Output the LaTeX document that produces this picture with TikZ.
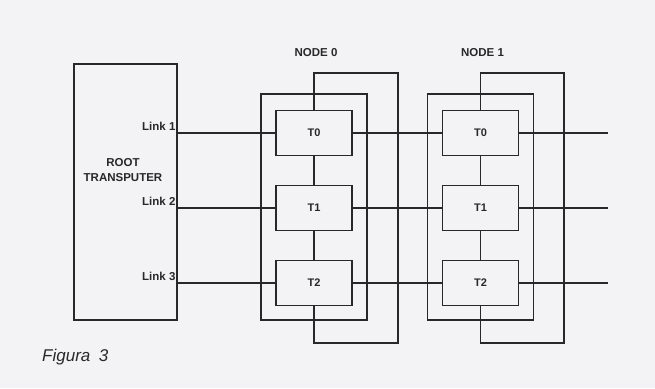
\documentclass[tikz,border=0pt]{standalone}
\usepackage{fontspec}
\setmainfont{Liberation Sans}
\usetikzlibrary{positioning, calc}
\definecolor{paper}{RGB}{243,243,246}
\definecolor{ink}{RGB}{40,40,40}

\begin{document}
\begin{tikzpicture}[x=1pt, y=-1pt,
  wire/.style={draw=ink, line width=1.3pt},
  tpbox/.style={wire, minimum width=76pt, minimum height=45pt, inner sep=0pt,
    text=ink, font=\fontsize{11}{13}\selectfont\bfseries},
  frame/.style={wire, minimum width=106pt, minimum height=226pt, inner sep=0pt},
  lbl/.style={text=ink, inner sep=0pt, font=\fontsize{11.5}{15}\selectfont\bfseries}]
  \fill[paper] (0,0) rectangle (655,388);
  \useasboundingbox (0,0) rectangle (655,388);

  % Root transputer
  \node[wire, minimum width=103pt, minimum height=256pt, inner sep=0pt] (root) at (125.5,192) {};
  \node[lbl, align=center] (rootname) at (123,170) {ROOT\\TRANSPUTER};

  % Node 0
  \node[lbl] (name0) at (316,53) {NODE 0};
  \node[frame] (frame0) at (314,207) {};
  \node[tpbox] (a0) at (314,133) {T0};
  \node[tpbox] (a1) at (314,208) {T1};
  \node[tpbox] (a2) at (314,283) {T2};
  \coordinate (top0) at (398,73);
  \coordinate (bot0) at (398,343);

  % Node 1
  \node[lbl] (name1) at (482.5,53) {NODE 1};
  \node[frame] (frame1) at (480.5,207) {};
  \node[tpbox] (b0) at (480.5,133) {T0};
  \node[tpbox] (b1) at (480.5,208) {T1};
  \node[tpbox] (b2) at (480.5,283) {T2};
  \coordinate (top1) at (564,73);
  \coordinate (bot1) at (564,343);

  % Links from the root
  \coordinate (l1) at (root.east |- a0);
  \coordinate (l2) at (root.east |- a1);
  \coordinate (l3) at (root.east |- a2);
  \node[lbl, anchor=south east] (lk1) at ($(l1)+(-2,-2)$) {Link 1};
  \node[lbl, anchor=south east] (lk2) at ($(l2)+(-2,-2)$) {Link 2};
  \node[lbl, anchor=south east] (lk3) at ($(l3)+(-2,-2)$) {Link 3};
  \draw[wire] (l1) -- (a0);
  \draw[wire] (l2) -- (a1);
  \draw[wire] (l3) -- (a2);

  % Pipelines and loops
  \draw[wire] (a0) -- (a1);
  \draw[wire] (a1) -- (a2);
  \draw[wire] (a0.north) |- (top0) -- (bot0) -| (a2.south);
  \draw[wire] (b0) -- (b1);
  \draw[wire] (b1) -- (b2);
  \draw[wire] (b0.north) |- (top1) -- (bot1) -| (b2.south);

  % Between the nodes and out
  \draw[wire] (a0) -- (b0);
  \draw[wire] (a1) -- (b1);
  \draw[wire] (a2) -- (b2);
  \coordinate (e0) at (608,133);
  \coordinate (e1) at (608,208);
  \coordinate (e2) at (608,283);
  \draw[wire] (b0) -- (e0);
  \draw[wire] (b1) -- (e1);
  \draw[wire] (b2) -- (e2);

  \node[anchor=base west, inner sep=0pt, text=ink, font=\fontsize{17}{20}\selectfont\itshape] (fig) at (42,361) {Figura\enspace 3};
\end{tikzpicture}
\end{document}
